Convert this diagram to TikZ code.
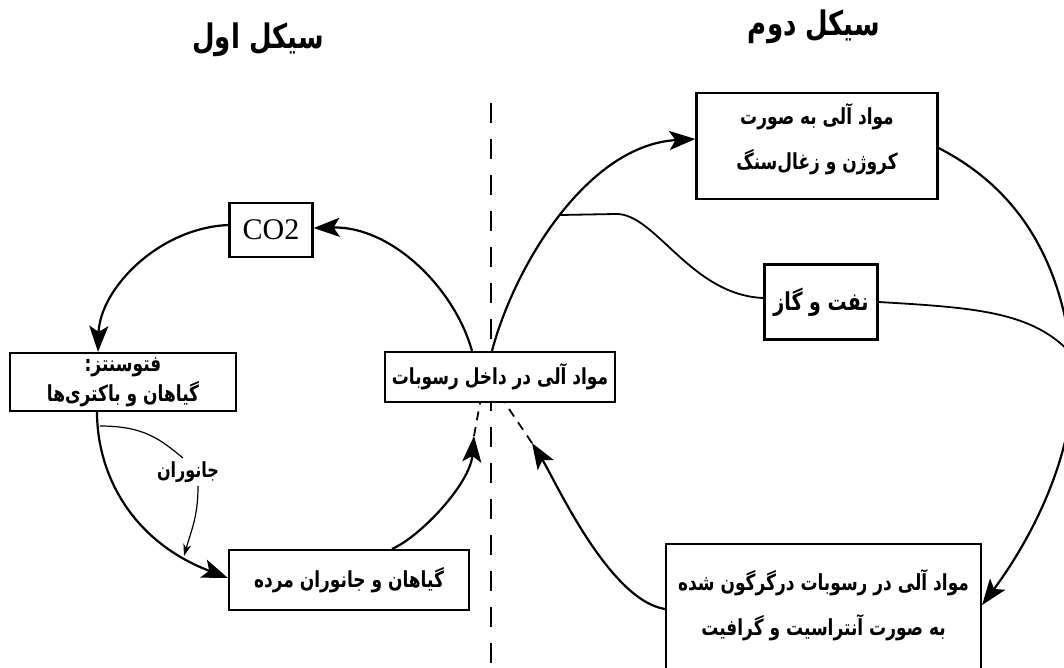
\documentclass[tikz,border=0pt]{standalone}
\usepackage{graphicx}
\usepackage{fontspec}
\setmainfont{Liberation Serif}
\newfontfamily\farsi[Script=Arabic]{DejaVu Sans}
\TeXXeTstate=1
\usetikzlibrary{arrows.meta}
% Persian line, set right to left and a little taller
\newcommand{\fatxt}[1]{\scalebox{1}[1.3]{\beginR#1\endR}}

\begin{document}
\begin{tikzpicture}[x=1pt,y=-1pt,
    box/.style={draw,line width=2.2pt,fill=white,inner sep=0pt,align=center,
      font=\farsi\bfseries\fontsize{17}{28}\selectfont},
    title/.style={font=\farsi\bfseries\fontsize{26}{30}\selectfont},
    tip/.style={-{Stealth[length=26pt,width=19pt,inset=6pt]}},
    flow/.style={tip,line width=2.2pt},
    thin flow/.style={line width=1.2pt},
    divider/.style={line width=1.6pt,dash pattern=on 20pt off 16pt}]
  \useasboundingbox[fill=white] (0,0) rectangle (1064,667);

  % dividing line between the two cycles
  \coordinate (divtop) at (491,103);
  \coordinate (divbot) at (491,675);
  \draw[divider] (divtop) -- (divbot);

  \node[title] (cycle1) at (258,40) {\fatxt{سیکل اول}};
  \node[title] (cycle2) at (814,27) {\fatxt{سیکل دوم}};

  % first cycle
  \node[box,minimum width=83pt,minimum height=54pt,font=\rmfamily\fontsize{30}{32}\selectfont] (co2) at (271,230) {CO2};
  \node[box,minimum width=226pt,minimum height=58pt] (photo) at (123,382)
    {\fatxt{فتوسنتز:}\\[2pt]\fatxt{گیاهان و باکتری‌ها}};
  \node[box,minimum width=240pt,minimum height=60pt] (dead) at (349,580) {\fatxt{گیاهان و جانوران مرده}};
  \node[box,minimum width=230pt,minimum height=50pt] (sed) at (500,377) {\fatxt{مواد آلی در داخل رسوبات}};

  % second cycle
  \node[box,minimum width=241pt,minimum height=106pt] (kerogen) at (817,146)
    {\fatxt{مواد آلی به صورت}\\[17pt]\fatxt{کروژن و زغال‌سنگ}\\[-8pt]};
  \node[box,minimum width=113pt,minimum height=75pt,font=\farsi\bfseries\fontsize{19}{24}\selectfont] (oil) at (821,302) {\fatxt{نفت و گاز}};
  \node[box,minimum width=315pt,minimum height=150pt] (meta) at (823.5,619) {};
  \node[box,draw=none,fill=none] (metatext) at (823.5,605)
    {\fatxt{مواد آلی در رسوبات درگرگون شده}\\[17pt]\fatxt{به صورت آنتراسیت و گرافیت}};

  % arrows of the first cycle
  \draw[flow] ([xshift=-28pt]sed.north) .. controls +(-18,-64) and +(77,-2) .. ([yshift=2pt]co2.east);
  \draw[flow] ([yshift=5pt]co2.west) .. controls +(-70,3) and +(2,-63) .. ([xshift=-25pt]photo.north);
  \draw[flow] ([xshift=-26pt]photo.south) .. controls +(0,59) and +(-99,-38) .. ([yshift=2pt]dead.west);
  \coordinate (inL) at (474,436);
  \draw[flow] ([xshift=43pt]dead.north) .. controls +(28,-12) and +(-4,48) .. (inL);
  \draw[thin flow,line width=1.8pt,dash pattern=on 9pt off 7pt] (inL) -- ([xshift=-20pt]sed.south);

  % animals branch
  \coordinate (branch) at (100,426);
  \coordinate (join) at (184,556);
  \node[font=\farsi\bfseries\fontsize{16}{18}\selectfont] (animals) at (188,472) {\fatxt{جانوران}};
  \draw[thin flow] (branch) .. controls +(45,0) and +(-22,-18) .. ([xshift=-5pt]animals.north);
  \draw[thin flow,-{Stealth[length=12pt,width=8pt]}] ([xshift=10pt]animals.south) .. controls +(0,30) and +(8,-28) .. (join);

  % arrows of the second cycle
  \draw[flow] ([xshift=-8pt]sed.north) .. controls +(23,-87) and +(-107,6) .. ([yshift=7pt]kerogen.west);
  \coordinate (fork) at (560,215);
  \draw[line width=1.8pt] (fork) -- (615,214) .. controls (655,212) and (690,295) .. ([yshift=4pt]oil.west);
  \coordinate (merge) at (1078,362);
  \draw[line width=1.8pt] (oil.east) .. controls +(102,6) and +(-38,-50) .. (merge);
  \draw[flow] ([yshift=-2pt]kerogen.east) .. controls +(72,37) and +(-12,-110) .. (1072,360)
    .. controls +(8,90) and +(47,-63) .. ([yshift=14pt]meta.east);
  \coordinate (inR) at (532,443);
  \draw[flow] ([yshift=10pt]meta.west) .. controls +(-56,-9) and +(23,37) .. (inR);
  \draw[thin flow,line width=1.8pt,dash pattern=on 9pt off 7pt] (inR) -- ([xshift=5pt]sed.south);
\end{tikzpicture}
\end{document}
